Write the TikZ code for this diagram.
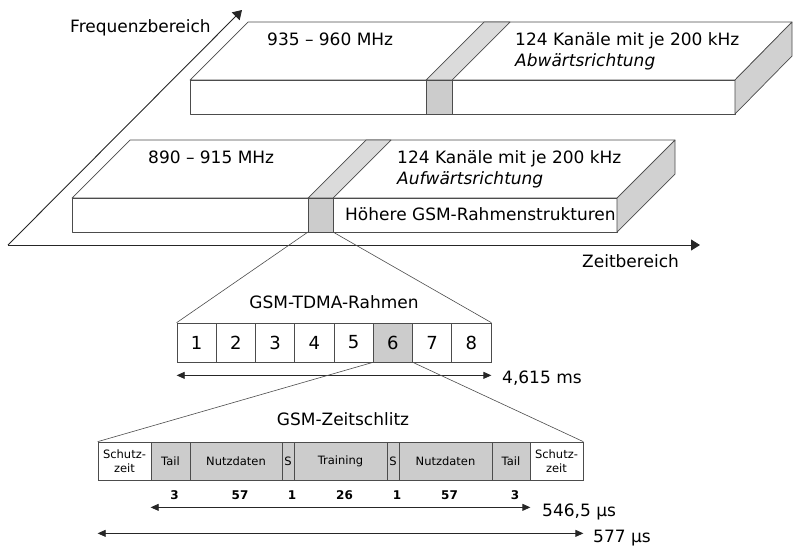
\documentclass[tikz,border=0pt]{standalone}
\usepackage{fontspec}
\setmainfont{DejaVu Sans}
\usepackage{tikz}
\usetikzlibrary{arrows.meta, positioning, calc}

\definecolor{slotgray}{gray}{0.80}
\definecolor{topgray}{gray}{0.86}
\definecolor{sidegray}{gray}{0.82}
\definecolor{linegray}{gray}{0.30}

\begin{document}
\begin{tikzpicture}[x=1pt, y=-1pt,
    big/.style={inner sep=0pt, font=\fontsize{17}{20}\selectfont},
    bigit/.style={inner sep=0pt, font=\fontsize{17}{20}\selectfont\itshape},
    face/.style={draw=linegray, line width=0.7pt, line join=round},
    axis/.style={-{Triangle[length=9pt, width=11pt]}, line width=0.9pt, black!85},
    dim/.style={{Triangle[length=8pt, width=7pt]}-{Triangle[length=8pt, width=7pt]},
                line width=0.8pt, black!85},
    zoomline/.style={draw=linegray, line width=0.6pt},
    cell/.style={draw=linegray, line width=0.7pt, minimum width=39.25pt,
                 minimum height=39pt, inner sep=0pt,
                 font=\fontsize{18}{20}\selectfont},
    field/.style={draw=linegray, line width=0.7pt, minimum height=38pt,
                  inner sep=0pt, align=center,
                  font=\fontsize{11.5}{13.5}\selectfont},
    num/.style={inner sep=0pt, font=\fontsize{12}{14}\selectfont\bfseries},
  ]

  % fixed frame, same size as the reference
  \useasboundingbox (0,0) rectangle (800,550);

  % ── Axes ────────────────────────────────────────────────────────────
  \coordinate (O)    at (8,245);
  \coordinate (fEnd) at (242,10);
  \coordinate (tEnd) at (700,245);

  \draw[axis] (O) -- (fEnd);
  \draw[axis] (O) -- (tEnd);

  \node[big, anchor=base west] (fLbl) at (70,32)  {Frequenzbereich};
  \node[big, anchor=base west] (tLbl) at (582,267) {Zeitbereich};

  % ── Downlink band (upper slab) ──────────────────────────────────────
  \filldraw[face, fill=white]    (190,80) -- (248,22) -- (792,22) -- (735,80) -- cycle;
  \filldraw[face, fill=white]    (190,80) rectangle (735,114);
  \filldraw[face, fill=sidegray] (735,80) -- (792,22) -- (792,56) -- (735,114) -- cycle;
  \filldraw[face, fill=topgray]  (426,80) -- (484,22) -- (510,22) -- (452,80) -- cycle;
  \filldraw[face, fill=slotgray] (426,80) rectangle (452,114);

  \node[big, anchor=base west]   (dFreq) at (267,45) {935 – 960 MHz};
  \node[big, anchor=base west]   (dCh)   at (515,45) {124 Kanäle mit je 200 kHz};
  \node[bigit, anchor=base west] (dDir)  at (515,66) {Abwärtsrichtung};

  % ── Uplink band (lower slab) ────────────────────────────────────────
  \filldraw[face, fill=white]    (72,198) -- (130,140) -- (675,140) -- (617,198) -- cycle;
  \filldraw[face, fill=white]    (72,198) rectangle (617,232);
  \filldraw[face, fill=sidegray] (617,198) -- (675,140) -- (675,174) -- (617,232) -- cycle;
  \filldraw[face, fill=topgray]  (308,198) -- (366,140) -- (391,140) -- (333,198) -- cycle;
  \filldraw[face, fill=slotgray] (308,198) rectangle (333,232);

  \coordinate (uS1) at (308,232);
  \coordinate (uS2) at (333,232);

  \node[big, anchor=base west]   (uFreq) at (148,163) {890 – 915 MHz};
  \node[big, anchor=base west]   (uCh)   at (397,163) {124 Kanäle mit je 200 kHz};
  \node[bigit, anchor=base west] (uDir)  at (397,184) {Aufwärtsrichtung};
  \node[big, anchor=base west]   (uHi)   at (345,220) {Höhere GSM-Rahmenstrukturen};

  % ── TDMA frame ──────────────────────────────────────────────────────
  \node[big, anchor=base] (frTitle) at (334,308) {GSM-TDMA-Rahmen};

  \foreach \i/\fc in {1/white, 2/white, 3/white, 4/white,
                      5/white, 6/slotgray, 7/white, 8/white}
    \node[cell, fill=\fc] (c\i) at ({177+39.25*(\i-0.5)}, 342.5) {\i};

  \draw[zoomline] (uS1) -- (c1.north west);
  \draw[zoomline] (uS2) -- (c8.north east);

  \draw[dim] ([yshift=-13pt]c1.south west) -- ([yshift=-13pt]c8.south east);
  \node[big, anchor=base west] (frLen) at (502,383) {4,615 ms};

  % ── Time slot ───────────────────────────────────────────────────────
  \node[big, anchor=base] (slTitle) at (343,425) {GSM-Zeitschlitz};

  \foreach \n/\l/\r/\t/\fc in {1/98/151/{Schutz-\\zeit}/white,
                               2/151/190/Tail/slotgray,
                               3/190/282/Nutzdaten/slotgray,
                               4/282/294/S/slotgray,
                               5/294/387/Training/slotgray,
                               6/387/399/S/slotgray,
                               7/399/492/Nutzdaten/slotgray,
                               8/492/530/Tail/slotgray,
                               9/530/583/{Schutz-\\zeit}/white} {
    \pgfmathsetmacro\w{\r-\l}
    \node[field, fill=\fc, minimum width=\w pt] (s\n) at ({(\l+\r)/2}, 461) {\t};
  }

  \draw[zoomline] (c6.south west) -- (s1.north west);
  \draw[zoomline] (c6.south east) -- (s9.north east);

  % bit counts under the fields
  \foreach \n/\v in {2/3, 3/57, 4/1, 5/26, 6/1, 7/57, 8/3}
    \node[num, anchor=base] (n\n) at ([xshift=4pt]s\n.south |- 0,499) {\v};

  \draw[dim] ([yshift=-27pt]s2.south west) -- ([yshift=-27pt]s8.south east);
  \node[big, anchor=base west] (slLen) at (542,516) {546,5 µs};

  \draw[dim] ([yshift=-53pt]s1.south west) -- ([yshift=-53pt]s9.south east);
  \node[big, anchor=base west] (slAll) at (593,542) {577 µs};

\end{tikzpicture}
\end{document}
